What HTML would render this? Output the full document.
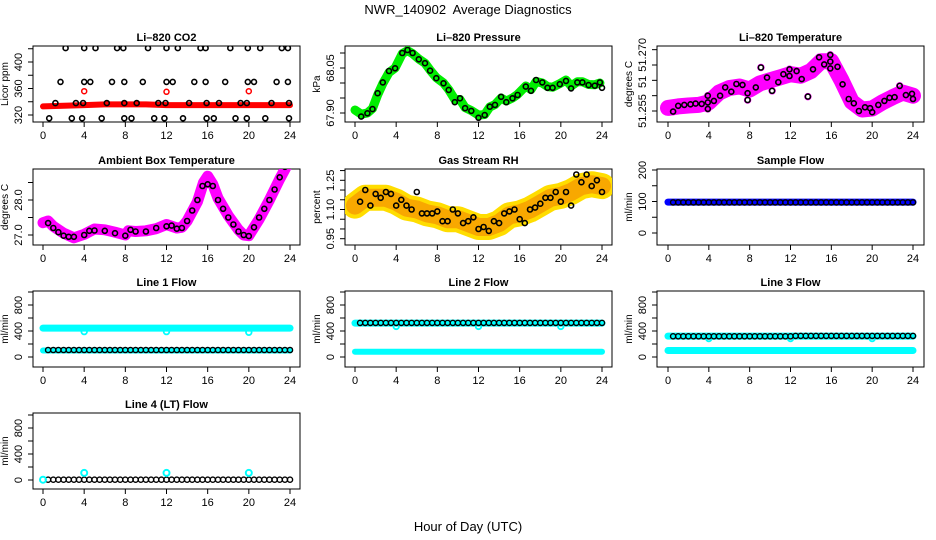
<!DOCTYPE html>
<html><head><meta charset="utf-8"><title>NWR_140902 Average Diagnostics</title>
<style>
html,body{margin:0;padding:0;background:#fff;}
svg{display:block;font-family:"Liberation Sans",Arial,sans-serif;}
</style></head>
<body>
<svg id="chart" width="936" height="540" viewBox="0 0 936 540" xmlns="http://www.w3.org/2000/svg">
<text x="468" y="14" font-size="13" text-anchor="middle" style="white-space:pre" xml:space="preserve">NWR_140902  Average Diagnostics</text>
<text x="468" y="531" font-size="13" text-anchor="middle">Hour of Day (UTC)</text>
</svg>
<script>
// ---------- shared ----------
const xTicks = [0,4,8,12,16,20,24];
const hours48 = [0.5,1,1.5,2,2.5,3,3.5,4,4.5,5,5.5,6,6.5,7,7.5,8,8.5,9,9.5,10,10.5,11,11.5,12,12.5,13,13.5,14,14.5,15,15.5,16,16.5,17,17.5,18,18.5,19,19.5,20,20.5,21,21.5,22,22.5,23,23.5,24];

// ---------- CO2 ----------
const co2BlackHours = [2.2,4.0,5.1,7.2,7.8,10.2,12.0,13.1,15.3,15.8,18.2,19.9,21.1,23.2,23.8, 1.7,4.0,4.6,6.7,7.9,9.7,12.0,12.6,14.7,15.8,17.7,19.9,20.5,22.7,23.8, 1.2,3.2,3.9,6.2,7.9,9.1,11.2,11.9,14.2,15.9,17.1,19.2,19.8,22.2,23.9, 0.6,2.8,3.8,5.7,7.9,8.6,10.8,11.8,13.6,15.9,16.6,18.7,19.8,21.6,23.9];
const co2BlackVals = [421,421,421,421,421,421,421,421,421,421,421,421,421,421,421, 370,370,370,370,370,370,370,370,370,370,370,370,370,370,370, 338,338,338,338,338,338,338,338,338,338,338,338,338,338,338, 315,315,315,315,315,315,315,315,315,315,315,315,315,315,315];
const co2RedHours = [0,2,4,6,8,10,12,14,16,18,20,22,24];
const co2RedVals = [333,334,335,336,336,336,335,335,335,335,335,335,335];
const co2RedDotHours = [4,12,20];
const co2RedDotVals = [356,355,356];

// ---------- Pressure ----------
const presHours = [0.6,1.2,1.7,2.2,2.7,3.3,3.9,4.6,5.1,5.6,6.2,6.8,7.3,7.9,8.6,9.1,9.7,10.2,10.7,11.3,12.0,12.6,13.1,13.6,14.2,14.7,15.3,15.8,16.6,17.1,17.6,18.2,18.7,19.2,19.9,20.5,21.0,21.6,22.1,22.7,23.3,23.8,24.0];
const presVals = [67.888,67.899,67.913,67.966,68.002,68.040,68.049,68.100,68.110,68.100,68.079,68.066,68.041,68.016,67.999,67.977,67.936,67.949,67.916,67.907,67.884,67.893,67.921,67.927,67.954,67.936,67.949,67.960,67.988,67.974,68.010,68.002,67.984,67.984,67.996,68.007,67.982,68.002,68.002,67.993,67.991,68.002,67.984];
const presGreenHours = [0,0.6,1.2,1.7,2.2,2.7,3.3,3.9,4.6,5.1,5.6,6.2,6.8,7.3,7.9,8.6,9.1,9.7,10.2,10.7,11.3,12.0,12.6,13.1,13.6,14.2,14.7,15.3,15.8,16.6,17.1,17.6,18.2,18.7,19.2,19.9,20.5,21.0,21.6,22.1,22.7,23.3,23.8];
const presGreenVals = [67.910,67.896,67.900,67.915,67.960,67.998,68.035,68.050,68.098,68.108,68.098,68.080,68.066,68.043,68.018,68.000,67.978,67.945,67.945,67.918,67.908,67.893,67.895,67.920,67.928,67.950,67.940,67.950,67.962,67.990,67.978,68.005,68.000,67.988,67.986,67.998,68.010,67.990,68.004,68.004,67.995,67.994,68.000];

// ---------- Li-820 Temperature ----------
const tempHours = [0.5,1.0,1.6,2.2,2.7,3.3,3.9,3.9,3.9,4.5,5.1,5.6,6.2,6.7,7.3,7.8,7.8,8.6,9.1,9.7,10.2,10.8,11.3,11.9,11.9,12.6,13.1,13.7,14.2,14.8,15.3,15.9,15.9,15.9,16.6,17.1,17.7,18.2,18.7,19.3,19.8,20.0,20.6,21.2,21.7,22.2,22.7,23.3,23.9,24.0];
const tempVals = [51.2548,51.2567,51.2570,51.2572,51.2574,51.2573,51.2578,51.2600,51.2557,51.2583,51.2600,51.2627,51.2613,51.2638,51.2635,51.2608,51.2586,51.2627,51.2692,51.2659,51.2616,51.2644,51.2670,51.2686,51.2664,51.2680,51.2654,51.2597,51.2686,51.2725,51.2702,51.2733,51.2711,51.2689,51.2694,51.2637,51.2589,51.2575,51.2550,51.2562,51.2559,51.2546,51.2570,51.2583,51.2593,51.2595,51.2632,51.2602,51.2606,51.2589];
const tempMagHours = [0,1,2,3,4,5,6,7,8,9,10,11,12,13,14,15,16,17,18,19,20,21,22,23,24];
const tempMagVals = [51.2560,51.2565,51.2568,51.2570,51.2578,51.2610,51.2625,51.2630,51.2620,51.2640,51.2650,51.2660,51.2670,51.2665,51.2680,51.2712,51.2712,51.2650,51.2580,51.2555,51.2558,51.2578,51.2595,51.2610,51.2600];

// ---------- Ambient Box Temperature ----------
const ambHours = [0.5,1,1.5,2,2.5,3,4,4.5,5,6,7,8,8.5,9,10,11,12,12.5,13,13.5,14,14.5,15,15.5,16,16.5,17,17.5,18,18.5,19,19.5,20,20.5,21,21.5,22,22.5,23,23.5,24];
const ambVals = [27.34,27.2,27.08,26.98,26.95,26.95,27.0,27.12,27.13,27.12,27.05,26.98,27.15,27.1,27.1,27.2,27.25,27.27,27.18,27.2,27.4,27.7,28.0,28.4,28.45,28.4,28.0,27.75,27.5,27.3,27.1,27.0,26.97,27.22,27.5,27.75,28.0,28.3,28.65,28.95,29.1];
const ambMagHours = [0,0.5,1,2,3,4,5,6,7,8,8.3,9,10,11,12,13,13.5,14,15,15.6,16,16.5,17,18,19,19.5,20,21,22,23,24];
const ambMagVals = [27.35,27.4,27.25,27.05,26.92,27.02,27.17,27.15,27.08,27.0,27.12,27.1,27.12,27.18,27.3,27.2,27.22,27.4,27.95,28.5,28.68,28.45,28.05,27.55,27.15,27.0,26.98,27.45,28.0,28.6,29.15];

// ---------- Gas Stream RH ----------
const rhHours = hours48;
const rhVals = [1.14,1.20,1.12,1.18,1.16,1.19,1.18,1.12,1.15,1.12,1.10,1.19,1.08,1.08,1.08,1.09,1.04,1.04,1.10,1.08,1.03,1.04,1.06,1.00,1.01,0.99,1.04,1.03,1.08,1.09,1.10,1.05,1.03,1.10,1.11,1.13,1.16,1.16,1.19,1.14,1.19,1.12,1.28,1.24,1.28,1.22,1.25,1.19];
const rhBandHours = [0,1,2,3,4,5,6,7,8,9,10,11,12,13,14,15,16,17,18,19,20,21,22,23,24];
const rhBandVals = [1.12,1.16,1.16,1.16,1.14,1.11,1.10,1.08,1.07,1.05,1.05,1.03,1.01,1.01,1.03,1.07,1.08,1.10,1.13,1.16,1.17,1.19,1.22,1.23,1.22];

// ---------- Sample Flow ----------
const sampleBlueHours = [0,24];
const sampleBlueVals = [98,98];
const sampleBlackVals = [97,97,97,97,97,97,97,97,97,97,97,97,97,97,97,97,97,97,97,97,97,97,97,97,97,97,97,97,97,97,97,97,97,97,97,97,97,97,97,97,97,97,97,97,97,97,97,97];

// ---------- Line flows ----------
const bandHours = [0,24];
const line1CyanHigh = [445,445];
const line1CyanLow = [100,100];
const line1DipHours = [4,12,20];
const line1DipVals = [390,390,380];
const line1Black = [108,108,108,108,108,108,108,108,108,108,108,108,108,108,108,108,108,108,108,108,108,108,108,108,108,108,108,108,108,108,108,108,108,108,108,108,108,108,108,108,108,108,108,108,108,108,108,108];

const line2CyanHigh = [522,522];
const line2CyanLow = [82,82];
const line2DipHours = [4,12,20];
const line2DipVals = [470,470,470];
const line2Black = [525,525,525,525,525,525,525,525,525,525,525,525,525,525,525,525,525,525,525,525,525,525,525,525,525,525,525,525,525,525,525,525,525,525,525,525,525,525,525,525,525,525,525,525,525,525,525,525];

const line3CyanHigh = [322,322];
const line3CyanLow = [100,100];
const line3DipHours = [4,12,20];
const line3DipVals = [285,285,285];
const line3Black = [318,318,318,318,318,318,318,318,318,318,318,318,318,318,318,318,318,318,318,318,318,318,318,318,325,325,325,325,325,325,325,325,325,325,325,325,325,325,325,325,325,325,325,325,325,325,325,325];

const line4CyanDotHours = [0,4,12,20];
const line4CyanDotVals = [5,110,110,110];
const line4Black = [5,5,5,5,5,5,5,5,5,5,5,5,5,5,5,5,5,5,5,5,5,5,5,5,5,5,5,5,5,5,5,5,5,5,5,5,5,5,5,5,5,5,5,5,5,5,5,5];

// ---------- drawing ----------
const NS = "http://www.w3.org/2000/svg";
const svg = document.getElementById('chart');
const rowBottom = [122,245,367,489];

function mk(tag, attrs, parent){
  const e = document.createElementNS(NS, tag);
  for (const k in attrs) e.setAttribute(k, attrs[k]);
  (parent||svg).appendChild(e);
  return e;
}

function panel(name, col, row, title, ylab, v1, y1, v2, y2, yTicks, yLabelVals, yLabelText){
  const g = mk('g', {});
  
  
  const left = 33 + 312*col, right = 300 + 312*col;
  const x0 = (col===2 ? 668 : 43 + 312*col), x24 = (col===2 ? 913 : 290 + 312*col);
  const bottom = rowBottom[row], top = bottom - 76;
  const X = h => x0 + h*(x24-x0)/24;
  const Y = v => y1 + (v - v1)*(y2 - y1)/(v2 - v1);
  const box = mk('rect', {x:left, y:top, width:right-left, height:bottom-top, fill:'none', stroke:'#000', 'stroke-width':1}, g);
  
  
  const t = mk('text', {x:(left+right)/2, y:top-5, 'font-size':11, 'font-weight':'bold', 'text-anchor':'middle'}, g);
  t.textContent = title;
  
  
  const xa = mk('g', {}, g);
  
  
  xTicks.forEach(h => {
    mk('line', {x1:X(h), x2:X(h), y1:bottom, y2:bottom+5, stroke:'#000'}, xa);
    const lt = mk('text', {x:X(h), y:bottom+17, 'font-size':11, 'text-anchor':'middle'}, xa);
    lt.textContent = h;
  });
  const ya = mk('g', {}, g);
  
  
  yTicks.forEach(v => {
    mk('line', {x1:left-5, x2:left, y1:Y(v), y2:Y(v), stroke:'#000'}, ya);
  });
  yLabelVals.forEach((v,i) => {
    const cx = left-11, cy = Y(v);
    const lt = mk('text', {x:cx, y:cy, 'font-size':11, 'text-anchor':'middle', transform:'rotate(-90 '+cx+' '+cy+')'}, ya);
    lt.textContent = yLabelText[i];
  });
  const yl = mk('text', {x:left-25, y:(top+bottom)/2, 'font-size':10, 'text-anchor':'middle', transform:'rotate(-90 '+(left-25)+' '+((top+bottom)/2)+')'}, g);
  yl.textContent = ylab;
  
  
  const clipId = name + '-clip';
  const cp = mk('clipPath', {id:clipId}, g);
  mk('rect', {x:left, y:top, width:right-left, height:bottom-top}, cp);
  const data = mk('g', {'clip-path':'url(#'+clipId+')'}, g);
  
  
  return {X, Y, g:data, name};
}

function band(p, hs, vs, color, w, label){
  const pts = hs.map((h,i) => p.X(h).toFixed(1)+','+p.Y(vs[i]).toFixed(1)).join(' ');
  const pl = mk('polyline', {points:pts, fill:'none', stroke:color, 'stroke-width':w, 'stroke-linejoin':'round', 'stroke-linecap':'round'}, p.g);
  
  
}
function dots(p, hs, vs, color, r, sw, label){
  const gg = mk('g', {}, p.g);
  
  
  hs.forEach((h,i) => {
    const c = mk('circle', {cx:p.X(h).toFixed(1), cy:p.Y(vs[i]).toFixed(1), r:r, fill:'none', stroke:color, 'stroke-width':sw}, gg);
    
    
  });
}

// Row 1
let p = panel('co2', 0, 0, 'Li\u2013820 CO2', 'Licor ppm', 320, 115, 400, 62, [320,340,360,380,400,420], [320,360,400], ['320','360','400']);
band(p, co2RedHours, co2RedVals, '#ff0000', 6, 'red-band');
dots(p, co2RedDotHours, co2RedDotVals, '#ff0000', 2.5, 1.5, 'red-points');
dots(p, co2BlackHours, co2BlackVals, '#000', 2.5, 1.6, 'black-points');

p = panel('pressure', 1, 0, 'Li\u2013820 Pressure', 'kPa', 67.90, 113, 68.05, 68, [67.90,67.95,68.00,68.05,68.10], [67.90,68.05], ['67.90','68.05']);
band(p, presGreenHours, presGreenVals, '#00ee00', 9, 'green-band');
dots(p, presHours, presVals, '#000', 2.5, 1.6, 'black-points');

p = panel('li820-temp', 2, 0, 'Li\u2013820 Temperature', 'degrees C', 51.255, 111, 51.27, 65, [51.255,51.26,51.265,51.27,51.275], [51.255,51.2645,51.2733], ['51.255','51','51.270']);
band(p, tempMagHours, tempMagVals, '#ff00ff', 16, 'magenta-band');
dots(p, tempHours, tempVals, '#ff00ff', 3, 1.5, 'magenta-points');
dots(p, tempHours, tempVals, '#000', 2.5, 1.6, 'black-points');

// Row 2
p = panel('ambient-temp', 0, 1, 'Ambient Box Temperature', 'degrees C', 27.0, 235, 28.0, 200, [27.0,27.5,28.0,28.5], [27.0,28.0], ['27.0','28.0']);
band(p, ambMagHours, ambMagVals, '#ff00ff', 11, 'magenta-band');
dots(p, ambHours, ambVals, '#000', 2.5, 1.6, 'black-points');

p = panel('gas-rh', 1, 1, 'Gas Stream RH', 'percent', 0.95, 238.7, 1.25, 180.3, [0.95,1.00,1.05,1.10,1.15,1.20,1.25,1.30], [0.95,1.10,1.25], ['0.95','1.10','1.25']);
band(p, rhBandHours, rhBandVals, '#ffdd00', 26, 'yellow-band');
band(p, rhBandHours, rhBandVals, '#f8a800', 18, 'orange-band');
dots(p, rhHours, rhVals, '#000', 2.5, 1.6, 'black-points');

p = panel('sample-flow', 2, 1, 'Sample Flow', 'ml/min', 0, 233, 200, 170, [0,50,100,150,200], [0,100,200], ['0','100','200']);
band(p, sampleBlueHours, sampleBlueVals, '#0000ff', 7, 'blue-band');
dots(p, hours48, sampleBlackVals, '#000', 2.6, 1.4, 'black-points');

// Row 3
const flowTicks = [0,200,400,600,800,1000];
p = panel('line1-flow', 0, 2, 'Line 1 Flow', 'ml/min', 0, 357, 800, 305, flowTicks, [0,400,800], ['0','400','800']);
band(p, bandHours, line1CyanHigh, '#00ffff', 7, 'cyan-high-band');
band(p, bandHours, line1CyanLow, '#00ffff', 6, 'cyan-low-band');
dots(p, line1DipHours, line1DipVals, '#00ffff', 2.8, 1.8, 'cyan-points');
dots(p, hours48, line1Black, '#000', 2.6, 1.4, 'black-points');

p = panel('line2-flow', 1, 2, 'Line 2 Flow', 'ml/min', 0, 357, 800, 305, flowTicks, [0,400,800], ['0','400','800']);
band(p, bandHours, line2CyanHigh, '#00ffff', 7, 'cyan-high-band');
band(p, bandHours, line2CyanLow, '#00ffff', 6, 'cyan-low-band');
dots(p, line2DipHours, line2DipVals, '#00ffff', 2.8, 1.8, 'cyan-points');
dots(p, hours48, line2Black, '#000', 2.6, 1.4, 'black-points');

p = panel('line3-flow', 2, 2, 'Line 3 Flow', 'ml/min', 0, 357, 800, 305, flowTicks, [0,400,800], ['0','400','800']);
band(p, bandHours, line3CyanHigh, '#00ffff', 7, 'cyan-high-band');
band(p, bandHours, line3CyanLow, '#00ffff', 7, 'cyan-low-band');
dots(p, line3DipHours, line3DipVals, '#00ffff', 2.8, 1.8, 'cyan-points');
dots(p, hours48, line3Black, '#000', 2.6, 1.4, 'black-points');

// Row 4
p = panel('line4-flow', 0, 3, 'Line 4 (LT) Flow', 'ml/min', 0, 480, 800, 428, flowTicks, [0,400,800], ['0','400','800']);
dots(p, hours48, line4Black, '#000', 2.6, 1.4, 'black-points');
dots(p, line4CyanDotHours, line4CyanDotVals, '#00ffff', 3, 2, 'cyan-points');
</script>
</body></html>
